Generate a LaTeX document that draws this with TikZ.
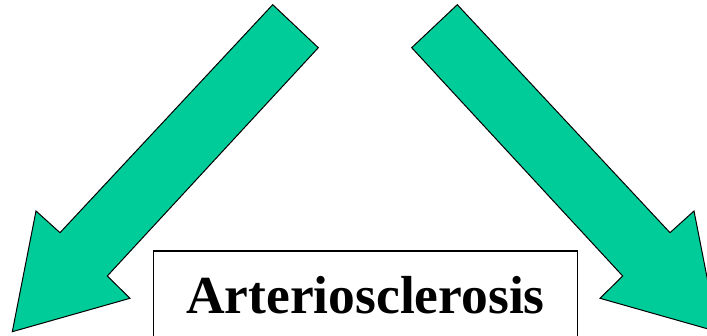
\documentclass[tikz,border=0pt]{standalone}
\usepackage{fontspec}
\setmainfont{Liberation Serif}
\usepackage{tikz}
\usetikzlibrary{positioning}
\definecolor{arrfill}{HTML}{00CC99}
\tikzset{
  bigarr/.style={draw=black,fill=arrfill,line width=1pt,line join=miter},
  term/.style={draw=black,line width=1.5pt,fill=white,inner sep=0pt,font=\fontsize{53.5}{60}\selectfont\bfseries,minimum width=424pt,minimum height=88pt},
}
\begin{document}
\begin{tikzpicture}[x=1pt,y=1pt]
\clip (0,0) rectangle (707,335);
\fill[white] (0,0) rectangle (707,335);
% left arrow
\draw[bigarr] (272.7,330.3) -- (318.3,287.3) -- (107.3,59) -- (130,36.7) -- (12.3,3.3) -- (36,124) -- (60,102.3) -- cycle;
% right arrow
\draw[bigarr] (457.3,330.3) -- (411.7,287.3) -- (622.7,59) -- (600,36.7) -- (717.7,3.3) -- (694,124) -- (670,102.3) -- cycle;
\node[term,anchor=north west] (athero) at (152.7,85) {Arteriosclerosis};
\end{tikzpicture}
\end{document}
